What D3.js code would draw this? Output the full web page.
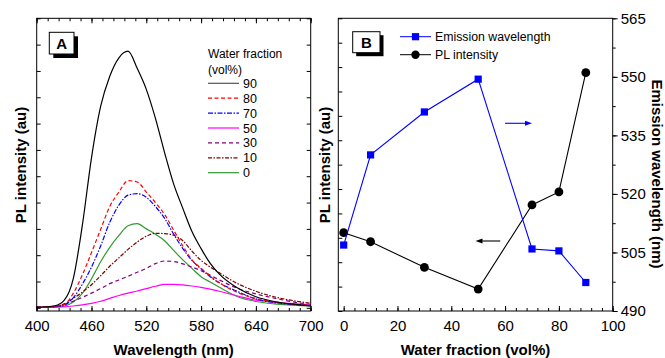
<!DOCTYPE html>
<html>
<head>
<meta charset="utf-8">
<script src="https://cdnjs.cloudflare.com/ajax/libs/d3/7.8.5/d3.min.js"></script>
<style>
body { margin: 0; background: #fff; }
svg text { font-family: Arial, "Liberation Sans", sans-serif; fill: #000; }
</style>
</head>
<body>
<svg id="chart" width="665" height="358"></svg>
<script>
// ---- panel A: PL spectra at different water fractions ----
var wavelength = [400,420,430,440,450,460,470,480,490,500,510,520,530,540,550,560,570,580,590,600,620,640,660,680,700];
var pl90 = [2,8,28,110,314,570,765,880,950,975,910,830,720,590,470,378,290,225,169,128,75,42,24,14,8];
var pl80 = [2,6,12,55,125,210,298,385,440,483,478,440,400,355,295,235,182,150,120,95,58,35,22,14,9];
var pl70 = [2,4,10,38,90,155,235,325,390,428,434,420,385,340,280,225,180,148,118,95,62,34,20,13,8];
var pl50 = [2,3,4,7,11,17,25,36,47,56,64,73,82,89,89,87,83,78,71,63,45,29,22,16,12];
var pl30 = [2,6,13,25,40,56,73,92,106,120,135,150,168,178,176,167,155,141,124,106,74,53,37,23,12];
var pl10 = [2,5,15,36,60,88,122,158,190,222,250,272,283,282,276,255,215,180,155,133,92,63,42,28,17];
var pl0  = [2,3,6,22,55,110,175,230,275,312,320,300,280,255,218,182,150,118,98,78,42,24,15,10,6];
var fractionLabels = ["90","80","70","50","30","10","0"];
var wlTicks = [400,460,520,580,640,700];

// ---- panel B: emission wavelength and PL intensity vs water fraction ----
var water = [0,10,30,50,70,80,90];
var emission = [506.9,530,541,549.4,505.9,505.4,497.3];
var intensity = [3.21,2.84,1.79,0.90,4.35,4.88,9.77];
var waterTicks = [0,20,40,60,80,100];
var emTicks = [490,505,520,535,550,565];

var svg = d3.select("#chart");
var top_ = 18.3, bottom = 311;

function noDomain(g) { g.select(".domain").remove(); }

// ===== panel A =====
var xA = d3.scaleLinear().domain([400,700]).range([36.7,310.7]);
var yA = d3.scaleLinear().domain([-12,1100]).range([bottom,top_]);

var series = [
  {v: pl90, color: "#000", dash: null, legendColor: "#555"},
  {v: pl80, color: "#ff0000", dash: "4,2.5"},
  {v: pl70, color: "#0000ff", dash: "5,1.5,1.5,1.5"},
  {v: pl50, color: "#ff00ff", dash: null},
  {v: pl30, color: "#800080", dash: "4,3"},
  {v: pl10, color: "#800000", dash: "4,1.5,1.5,1.5"},
  {v: pl0,  color: "#2f9a2f", dash: null}
];

var line = d3.line()
  .x(function(d, i) { return xA(wavelength[i]); })
  .y(function(d) { return yA(d); })
  .curve(d3.curveMonotoneX);

var drawOrder = [6,5,4,3,2,1,0];
drawOrder.forEach(function(k) {
  var s = series[k];
  svg.append("path")
    .attr("d", line(s.v))
    .attr("fill", "none")
    .attr("stroke", s.color)
    .attr("stroke-width", 1.2)
    .attr("stroke-dasharray", s.dash);
});

// axes A
svg.append("g").attr("transform", "translate(0," + bottom + ")")
  .call(d3.axisBottom(xA).tickValues(d3.range(400,701,12)).tickSize(-3).tickFormat(""))
  .call(noDomain);
svg.append("g").attr("transform", "translate(0," + bottom + ")")
  .call(d3.axisBottom(xA).tickValues(wlTicks).tickSize(-5).tickPadding(9).tickFormat(d3.format("d")))
  .call(noDomain)
  .selectAll("text").style("font-size", "15px");
svg.append("g").attr("transform", "translate(0," + top_ + ")")
  .call(d3.axisTop(xA).tickValues(d3.range(400,701,12)).tickSize(-3).tickFormat(""))
  .call(noDomain);
svg.append("g").attr("transform", "translate(0," + top_ + ")")
  .call(d3.axisTop(xA).tickValues(wlTicks).tickSize(-5).tickFormat(""))
  .call(noDomain);
svg.append("g").attr("transform", "translate(36.7,0)")
  .call(d3.axisLeft(yA).tickValues(d3.range(0,1101,100)).tickSize(-4).tickFormat(""))
  .call(noDomain);
svg.append("g").attr("transform", "translate(310.7,0)")
  .call(d3.axisRight(yA).tickValues(d3.range(0,1101,100)).tickSize(-4).tickFormat(""))
  .call(noDomain);

svg.append("rect").attr("x", 36.7).attr("y", top_).attr("width", 274).attr("height", bottom - top_)
  .attr("fill", "none").attr("stroke", "#000").attr("stroke-width", 1);

// box label A
svg.append("rect").attr("x", 53.3).attr("y", 36.3).attr("width", 24.7).attr("height", 21.7).attr("fill", "#000");
svg.append("rect").attr("x", 49.3).attr("y", 32.3).attr("width", 24.7).attr("height", 21.7)
  .attr("fill", "#fff").attr("stroke", "#000");
svg.append("text").attr("x", 61.7).attr("y", 48.5).attr("text-anchor", "middle")
  .style("font-size", "15px").style("font-weight", "bold").text("A");

// legend A
svg.append("text").attr("x", 208).attr("y", 57.5).style("font-size", "12px").text("Water fraction");
svg.append("text").attr("x", 208).attr("y", 74).style("font-size", "12px").text("(vol%)");
series.forEach(function(s, i) {
  var y = 83.3 + i * 14.9;
  svg.append("line").attr("x1", 208).attr("x2", 239).attr("y1", y).attr("y2", y)
    .attr("stroke", s.legendColor || s.color).attr("stroke-width", 1.2)
    .attr("stroke-dasharray", s.dash);
  svg.append("text").attr("x", 243).attr("y", y).attr("dy", "0.36em")
    .style("font-size", "12.5px").text(fractionLabels[i]);
});

// titles A
svg.append("text").attr("x", 173.7).attr("y", 355).attr("text-anchor", "middle")
  .style("font-size", "15px").style("font-weight", "bold").text("Wavelength (nm)");
svg.append("text").attr("transform", "translate(26,165) rotate(-90)").attr("text-anchor", "middle")
  .style("font-size", "15px").style("font-weight", "bold").text("PL intensity (au)");

// ===== panel B =====
var xB = d3.scaleLinear().domain([-2,100]).range([338.3,612.7]);
var yL = d3.scaleLinear().domain([0,12]).range([bottom,top_]);
var yR = d3.scaleLinear().domain([490,565]).range([bottom,top_]);

svg.append("g").attr("transform", "translate(0," + bottom + ")")
  .call(d3.axisBottom(xB).tickValues(d3.range(0,101,4)).tickSize(-3).tickFormat(""))
  .call(noDomain);
svg.append("g").attr("transform", "translate(0," + bottom + ")")
  .call(d3.axisBottom(xB).tickValues(waterTicks).tickSize(-5).tickPadding(9).tickFormat(d3.format("d")))
  .call(noDomain)
  .selectAll("text").style("font-size", "15px");
svg.append("g").attr("transform", "translate(338.3,0)")
  .call(d3.axisLeft(yL).tickValues(d3.range(0,13,1)).tickSize(-4).tickFormat(""))
  .call(noDomain);
svg.append("g").attr("transform", "translate(612.7,0)")
  .call(d3.axisRight(yR).tickValues(d3.range(490,566,7.5)).tickSize(3).tickFormat(""))
  .call(noDomain);
svg.append("g").attr("transform", "translate(612.7,0)")
  .call(d3.axisRight(yR).tickValues(emTicks).tickSize(5).tickPadding(3).tickFormat(d3.format("d")))
  .call(noDomain)
  .selectAll("text").style("font-size", "15px");

svg.append("rect").attr("x", 338.3).attr("y", top_).attr("width", 274.4).attr("height", bottom - top_)
  .attr("fill", "none").attr("stroke", "#000").attr("stroke-width", 1);

// PL intensity (black)
svg.append("path")
  .attr("d", d3.line().x(function(d, i) { return xB(water[i]); }).y(function(d) { return yL(d); })(intensity))
  .attr("fill", "none").attr("stroke", "#000").attr("stroke-width", 1.1);
svg.selectAll(".dot").data(intensity).join("circle").attr("class", "dot")
  .attr("cx", function(d, i) { return xB(water[i]); })
  .attr("cy", function(d) { return yL(d); })
  .attr("r", 4.4).attr("fill", "#000");

// emission wavelength (blue)
svg.append("path")
  .attr("d", d3.line().x(function(d, i) { return xB(water[i]); }).y(function(d) { return yR(d); })(emission))
  .attr("fill", "none").attr("stroke", "#0000ff").attr("stroke-width", 1.1);
svg.selectAll(".sq").data(emission).join("rect").attr("class", "sq")
  .attr("x", function(d, i) { return xB(water[i]) - 3.6; })
  .attr("y", function(d) { return yR(d) - 3.6; })
  .attr("width", 7.2).attr("height", 7.2).attr("fill", "#0000ff");

// arrows
svg.append("line").attr("x1", xB(60)).attr("x2", xB(67.5)).attr("y1", yR(538.1)).attr("y2", yR(538.1))
  .attr("stroke", "#0000ff").attr("stroke-width", 1.1);
svg.append("path")
  .attr("d", "M" + xB(70) + "," + yR(538.1) + "l-7,-2.5l0,5z").attr("fill", "#0000ff");
svg.append("line").attr("x1", xB(51.5)).attr("x2", xB(58.2)).attr("y1", yL(2.87)).attr("y2", yL(2.87))
  .attr("stroke", "#000").attr("stroke-width", 1.1);
svg.append("path")
  .attr("d", "M" + xB(49) + "," + yL(2.87) + "l7,-2.5l0,5z").attr("fill", "#000");

// box label B
svg.append("rect").attr("x", 356.2).attr("y", 35.2).attr("width", 27.3).attr("height", 21).attr("fill", "#000");
svg.append("rect").attr("x", 352.7).attr("y", 31.7).attr("width", 27.3).attr("height", 21)
  .attr("fill", "#fff").attr("stroke", "#000");
svg.append("text").attr("x", 366.3).attr("y", 47.5).attr("text-anchor", "middle")
  .style("font-size", "15px").style("font-weight", "bold").text("B");

// legend B
svg.append("line").attr("x1", 400).attr("x2", 431).attr("y1", 36.7).attr("y2", 36.7).attr("stroke", "#0000ff");
svg.append("rect").attr("x", 411.9).attr("y", 33.1).attr("width", 7.2).attr("height", 7.2).attr("fill", "#0000ff");
svg.append("text").attr("x", 435).attr("y", 36.7).attr("dy", "0.36em").style("font-size", "12.3px").text("Emission wavelength");
svg.append("line").attr("x1", 400).attr("x2", 431).attr("y1", 54.7).attr("y2", 54.7).attr("stroke", "#000");
svg.append("circle").attr("cx", 415.5).attr("cy", 54.7).attr("r", 4.2).attr("fill", "#000");
svg.append("text").attr("x", 435).attr("y", 54.7).attr("dy", "0.36em").style("font-size", "12.3px").text("PL intensity");

// titles B
svg.append("text").attr("x", 475.5).attr("y", 355).attr("text-anchor", "middle")
  .style("font-size", "15px").style("font-weight", "bold").text("Water fraction (vol%)");
svg.append("text").attr("transform", "translate(330,165) rotate(-90)").attr("text-anchor", "middle")
  .style("font-size", "15px").style("font-weight", "bold").text("PL intensity (au)");
svg.append("text").attr("transform", "translate(652,174) rotate(90)").attr("text-anchor", "middle")
  .style("font-size", "15px").style("font-weight", "bold").text("Emission wavelength (nm)");
</script>
</body>
</html>
